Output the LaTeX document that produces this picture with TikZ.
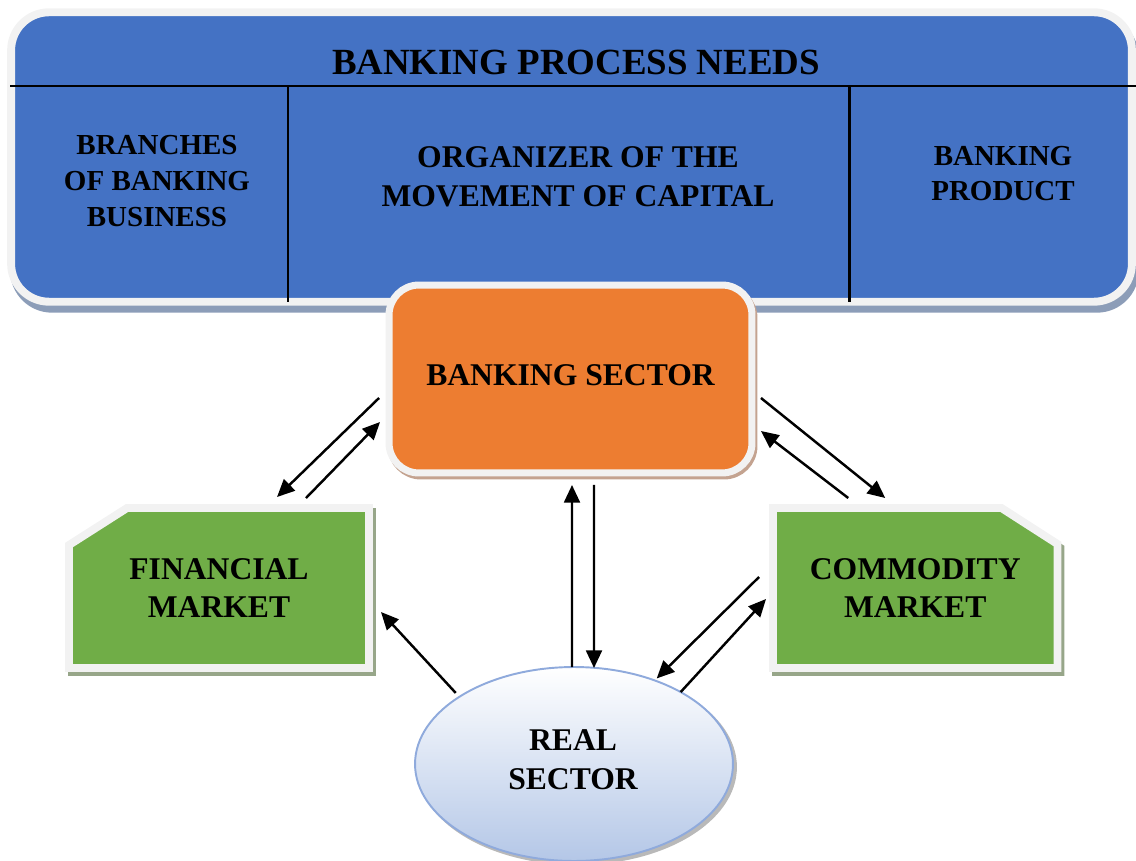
\documentclass[tikz,border=0pt]{standalone}
\usepackage{fontspec}
\setmainfont{Liberation Serif}
\usepackage{tikz}
\usetikzlibrary{positioning,arrows.meta,shapes.geometric}

\definecolor{needsblue}{HTML}{4472C4}
\definecolor{rimwhite}{HTML}{F2F2F2}
\definecolor{needsshade}{HTML}{8C9DB8}
\definecolor{sectororange}{HTML}{ED7D31}
\definecolor{sectorshade}{HTML}{C4A390}
\definecolor{marketgreen}{HTML}{70AD47}
\definecolor{marketshade}{HTML}{97A689}
\definecolor{ovalblue}{HTML}{B4C7E7}
\definecolor{ovalrim}{HTML}{8FAADC}

\begin{document}
\begin{tikzpicture}[x=0.02cm, y=-0.02cm,
  boxtext/.style={font=\bfseries\fontsize{18}{22}\selectfont, align=center, inner sep=0pt},
  coltext/.style={font=\bfseries\fontsize{16.5}{20.4}\selectfont, align=center, inner sep=0pt},
  needsbox/.style={draw=rimwhite, fill=needsblue, line width=4.5pt, rounded corners=0.76cm,
    minimum width=22.42cm, minimum height=5.79cm, outer sep=0pt,
    preaction={draw=needsshade, fill=needsshade, transform canvas={shift={(3,7)}}}},
  sectorbox/.style={draw=rimwhite, fill=sectororange, line width=4pt, rounded corners=0.6cm,
    minimum width=7.26cm, minimum height=3.76cm, outer sep=0pt,
    preaction={draw=sectorshade, fill=sectorshade, transform canvas={shift={(2,3)}}}},
  marketspot/.style={rectangle, minimum width=#1, minimum height=3.2cm, outer sep=0pt, inner sep=0pt},
  marketbox/.style={draw=rimwhite, fill=marketgreen, line width=4.5pt},
  marketshadow/.style={draw=marketshade, fill=marketshade, line width=4.5pt},
  ovalnode/.style={ellipse, draw=ovalrim, line width=1.1pt, top color=white, bottom color=ovalblue,
    minimum width=6.36cm, minimum height=3.88cm, inner sep=0pt, outer sep=0pt,
    preaction={draw=gray!55, fill=gray!55, transform canvas={shift={(3,3)}}}},
  divider/.style={line width=1.7pt},
  flowarrow/.style={-{Triangle[length=10pt,width=9pt]}, line width=1.4pt}]
    \useasboundingbox (0,0) rectangle (1136,861);

    % top panel with its three columns
    \node[needsbox] (needs) at (571.5,157) {};
    \draw[divider] (10,86) -- (1136,86);
    \draw[divider] (288,86) -- (288,302);
    \draw[divider] (849,86) -- (849,302);
    \node[font=\bfseries\fontsize{21}{25}\selectfont, inner sep=0pt] (title) at (576,62) {BANKING PROCESS NEEDS};
    \node[coltext] (branches) at (157,181) {BRANCHES\\OF BANKING\\BUSINESS};
    \node[boxtext] (organizer) at (578,176.5) {ORGANIZER OF THE\\MOVEMENT OF CAPITAL};
    \node[coltext, font=\bfseries\fontsize{16.5}{19.8}\selectfont] (product) at (1003,173.5) {BANKING\\PRODUCT};

    % banking sector
    \node[sectorbox] (bank) at (570.5,379) {};
    \node[boxtext] (banklabel) at ([shift={(0,-4)}]bank.center) {BANKING SECTOR};

    % the two markets, cut corner on the outer side
    \node[marketspot=6cm] (fin) at (219,588) {};
    \node[marketspot=5.69cm] (com) at (915.25,588) {};
    \begin{scope}[transform canvas={shift={(3,4)}}]
      \path[marketshadow] (fin.south west) -- ([shift={(0,37)}]fin.north west)
        -- ([shift={(58,0)}]fin.north west) -- (fin.north east) -- (fin.south east) -- cycle;
      \path[marketshadow] (com.south west) -- (com.north west)
        -- ([shift={(-56,0)}]com.north east) -- ([shift={(0,36)}]com.north east)
        -- (com.south east) -- cycle;
    \end{scope}
    \path[marketbox] (fin.south west) -- ([shift={(0,37)}]fin.north west)
      -- ([shift={(58,0)}]fin.north west) -- (fin.north east) -- (fin.south east) -- cycle;
    \path[marketbox] (com.south west) -- (com.north west)
      -- ([shift={(-56,0)}]com.north east) -- ([shift={(0,36)}]com.north east)
      -- (com.south east) -- cycle;
    \node[boxtext] (finlabel) at (fin) {FINANCIAL\\MARKET};
    \node[boxtext] (comlabel) at (com) {COMMODITY\\MARKET};

    % real sector
    \node[ovalnode] (real) at (574,764) {};
    \node[boxtext] (reallabel) at ([shift={(-1,-4)}]real.center) {REAL\\SECTOR};

    \path[flowarrow]
      ([shift={(-10,19)}]bank.west) edge ([shift={(58,-11)}]fin.north)
      ([shift={(87,-10)}]fin.north) edge ([shift={(-9,43)}]bank.west)
      ([shift={(9,19)}]bank.east) edge ([shift={(-30,-10)}]com.north)
      ([shift={(-67,-10)}]com.north) edge ([shift={(9,52)}]bank.east)
      ([shift={(-2,0)}]real.north) edge ([shift={(1.5,12)}]bank.south)
      ([shift={(23.5,12)}]bank.south) edge ([shift={(20,1)}]real.north)
      ([shift={(-5,-3)}]real.149) edge ([shift={(12,24)}]fin.east)
      ([shift={(-14,-11)}]com.west) edge ([shift={(2,-2)}]real.46)
      (real.34) edge ([shift={(-7,11)}]com.west);
\end{tikzpicture}
\end{document}
